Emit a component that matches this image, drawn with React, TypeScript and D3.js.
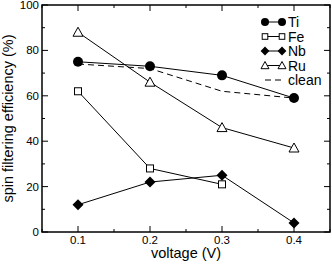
import React, { useEffect, useRef } from "react";
import * as d3 from "d3";

const voltages = [0.1, 0.2, 0.3, 0.4];
const tiValues = [75, 73, 69, 59];
const feValues = [62, 28, 21];
const nbValues = [12, 22, 25, 4];
const ruValues = [88, 66, 46, 37];
const cleanValues = [74, 72, 62, 59];
const xTicks = [0.1, 0.2, 0.3, 0.4];
const yTicks = [0, 20, 40, 60, 80, 100];

type Marker = "circle" | "square" | "diamond" | "triangle" | "none";

const series: { name: string; values: number[]; marker: Marker; dashed?: boolean }[] = [
  { name: "Ti", values: tiValues, marker: "circle" },
  { name: "Fe", values: feValues, marker: "square" },
  { name: "Nb", values: nbValues, marker: "diamond" },
  { name: "Ru", values: ruValues, marker: "triangle" },
  { name: "clean", values: cleanValues, marker: "none", dashed: true },
];

const App: React.FC = () => {
  const svgRef = useRef<SVGSVGElement>(null);

  useEffect(() => {
    const svg = d3.select(svgRef.current);
    svg.selectAll("*").remove();

    const m = { left: 42, top: 5, right: 330, bottom: 232 };
    const x = d3.scaleLinear().domain([0.05, 0.45]).range([m.left, m.right]);
    const y = d3.scaleLinear().domain([0, 100]).range([m.bottom, m.top]);
    const font = "Liberation Sans, Arial, sans-serif";

    const g = svg.append("g");

    // frame
    g.append("rect")
      .attr("x", m.left)
      .attr("y", m.top)
      .attr("width", m.right - m.left)
      .attr("height", m.bottom - m.top)
      .attr("fill", "none")
      .attr("stroke", "#000")
      .attr("stroke-width", 1.5);

    // ticks, inside on all four sides
    const xMinor = d3.range(0.05, 0.451, 0.05);
    const yMinor = d3.range(0, 101, 10);
    const tick = (x1: number, y1: number, x2: number, y2: number) =>
      g.append("line").attr("x1", x1).attr("y1", y1).attr("x2", x2).attr("y2", y2)
        .attr("stroke", "#000").attr("stroke-width", 1);
    xMinor.forEach((v) => {
      const major = xTicks.some((t) => Math.abs(t - v) < 1e-6);
      const len = major ? 6 : 3;
      tick(x(v), m.bottom, x(v), m.bottom - len);
      tick(x(v), m.top, x(v), m.top + len);
    });
    yMinor.forEach((v) => {
      const major = v % 20 === 0;
      const len = major ? 6 : 3;
      tick(m.left, y(v), m.left + len, y(v));
      tick(m.right, y(v), m.right - len, y(v));
    });

    g.selectAll(".xl").data(xTicks).join("text")
      .attr("x", (d) => x(d)).attr("y", m.bottom + 12)
      .attr("text-anchor", "middle").attr("font-family", font).attr("font-size", 11.5)
      .text((d) => d.toFixed(1));
    g.selectAll(".yl").data(yTicks).join("text")
      .attr("x", m.left - 3).attr("y", (d) => y(d) + 4)
      .attr("text-anchor", "end").attr("font-family", font).attr("font-size", 11.5)
      .text((d) => d);

    g.append("text").attr("x", (m.left + m.right) / 2).attr("y", 258)
      .attr("text-anchor", "middle").attr("font-family", font).attr("font-size", 14.5)
      .text("voltage (V)");
    g.append("text")
      .attr("transform", `translate(13,${(m.top + m.bottom) / 2}) rotate(-90)`)
      .attr("text-anchor", "middle").attr("font-family", font).attr("font-size", 14.5)
      .text("spin filtering efficiency (%)");

    const drawMarker = (sel: any, marker: Marker, cx: number, cy: number, k = 1) => {
      if (marker === "circle") {
        sel.append("circle").attr("cx", cx).attr("cy", cy).attr("r", 5 * k).attr("fill", "#000");
      } else if (marker === "square") {
        const h = 3.5 * k;
        sel.append("rect").attr("x", cx - h).attr("y", cy - h).attr("width", 2 * h).attr("height", 2 * h)
          .attr("fill", "#fff").attr("stroke", "#000").attr("stroke-width", 1);
      } else if (marker === "diamond") {
        const h = 5.5 * k;
        sel.append("path").attr("d", `M${cx},${cy - h}L${cx + h},${cy}L${cx},${cy + h}L${cx - h},${cy}Z`)
          .attr("fill", "#000");
      } else if (marker === "triangle") {
        const w = 5 * k;
        sel.append("path").attr("d", `M${cx},${cy - w}L${cx + w},${cy + 0.8 * w}L${cx - w},${cy + 0.8 * w}Z`)
          .attr("fill", "#fff").attr("stroke", "#000").attr("stroke-width", 1);
      }
    };

    const line = d3.line<number>().x((_, i) => x(voltages[i])).y((d) => y(d));

    series.forEach((s) => {
      g.append("path").attr("d", line(s.values)).attr("fill", "none")
        .attr("stroke", "#000").attr("stroke-width", 1)
        .attr("stroke-dasharray", s.dashed ? "6,4" : null);
    });
    series.forEach((s) => {
      s.values.forEach((v, i) => drawMarker(g, s.marker, x(voltages[i]), y(v)));
    });

    // legend
    series.forEach((s, i) => {
      const ly = 22 + i * 14.5;
      g.append("line").attr("x1", 265).attr("x2", 282).attr("y1", ly).attr("y2", ly)
        .attr("stroke", "#000").attr("stroke-width", 1)
        .attr("stroke-dasharray", s.dashed ? "6,4" : null);
      drawMarker(g, s.marker, 265, ly, 0.8);
      drawMarker(g, s.marker, 282, ly, 0.8);
      g.append("text").attr("x", 288).attr("y", ly + 5)
        .attr("font-family", font).attr("font-size", 14).text(s.name);
    });
  }, []);

  return (
    <svg ref={svgRef} width={332} height={264}
      style={{ position: "absolute", left: 0, top: 0, background: "#fff" }} />
  );
};

export default App;
